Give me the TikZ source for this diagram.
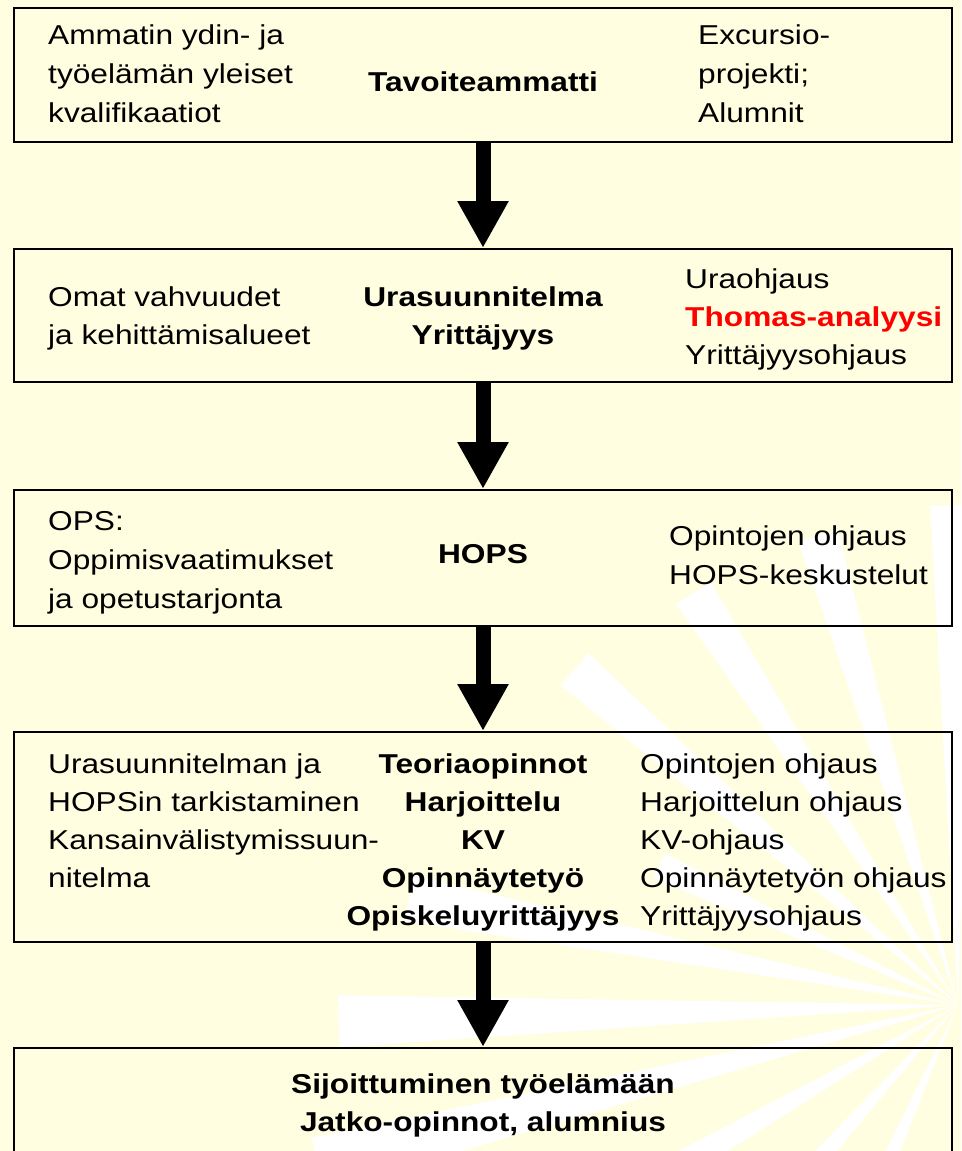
\documentclass[tikz,border=0pt]{standalone}
\usepackage{fontspec}
\setmainfont{Liberation Sans}[FakeStretch=1.16]
\usetikzlibrary{arrows.meta}
\definecolor{bgyellow}{RGB}{255,254,224}
\definecolor{alertred}{RGB}{255,0,0}
\tikzset{
  stage/.style={draw=black, line width=2pt, minimum width=938pt, inner sep=0pt},
  txt/.style={inner sep=0pt, anchor=base west, font=\fontsize{27.3}{38}\selectfont},
  head/.style={inner sep=0pt, anchor=base, font=\fontsize{27.3}{38}\selectfont\bfseries},
  flow/.style={line width=15pt, -{Triangle[length=47pt,width=48pt]}},
}
\begin{document}
\begin{tikzpicture}[x=1pt,y=-1pt]
	\useasboundingbox (0,0) rectangle (961,1151);
	\clip (0,0) rectangle (961,1151);
	% background and sun rays
	\fill[bgyellow] (0,0) rectangle (961,1151);
	\coordinate (sun) at (958,1005);
	\foreach \a/\r in {90.8/500, 106.6/490, 122.7/490, 138.8/510, 155/330, 169/560,
		181.5/620, 194/660, 210/420, 228/300, 246/250} {
		\fill[white] (sun) -- +({\r*cos(\a-2.4)},{-\r*sin(\a-2.4)})
			-- +({\r*cos(\a+2.4)},{-\r*sin(\a+2.4)}) -- cycle;
	}
	% stages
	\node[stage, minimum height=134pt] (box1) at (483,75) {};
	\node[stage, minimum height=133pt] (box2) at (483,315.5) {};
	\node[stage, minimum height=136pt] (box3) at (483,558) {};
	\node[stage, minimum height=210pt] (box4) at (483,837) {};
	\node[stage, minimum height=142pt] (box5) at (483,1119) {};
	% box 1
	\foreach \t [count=\i] in {Ammatin ydin- ja, työelämän yleiset, kvalifikaatiot}
		\node[txt] (goal-l\i) at (48,{5+39*\i}) {\t};
	\node[head] (goal) at (483,91) {Tavoiteammatti};
	\foreach \t [count=\i] in {Excursio-, projekti;, Alumnit}
		\node[txt] (goal-r\i) at (698,{5+39*\i}) {\t};
	% box 2
	\foreach \t [count=\i] in {Omat vahvuudet, ja kehittämisalueet}
		\node[txt] (plan-l\i) at (48,{268+38*\i}) {\t};
	\node[head] (plan-c1) at (483,306) {Urasuunnitelma};
	\node[head] (plan-c2) at (483,344) {Yrittäjyys};
	\node[txt] (plan-r1) at (685,288) {Uraohjaus};
	\node[txt, font=\fontsize{27.3}{38}\selectfont\bfseries, text=alertred] (plan-r2) at (685,326) {Thomas-analyysi};
	\node[txt] (plan-r3) at (685,364) {Yrittäjyysohjaus};
	% box 3
	\foreach \t [count=\i] in {OPS:, Oppimisvaatimukset, ja opetustarjonta}
		\node[txt] (hops-l\i) at (48,{491+39*\i}) {\t};
	\node[head] (hops) at (483,563) {HOPS};
	\foreach \t [count=\i] in {Opintojen ohjaus, HOPS-keskustelut}
		\node[txt] (hops-r\i) at (669,{506+39*\i}) {\t};
	% box 4
	\foreach \t [count=\i] in {Urasuunnitelman ja, HOPSin tarkistaminen, Kansainvälistymissuun-, nitelma}
		\node[txt] (study-l\i) at (48,{735+38*\i}) {\t};
	\foreach \t [count=\i] in {Teoriaopinnot, Harjoittelu, KV, Opinnäytetyö, Opiskeluyrittäjyys}
		\node[head] (study-c\i) at (483,{735+38*\i}) {\t};
	\foreach \t [count=\i] in {Opintojen ohjaus, Harjoittelun ohjaus, KV-ohjaus, Opinnäytetyön ohjaus, Yrittäjyysohjaus}
		\node[txt] (study-r\i) at (640,{735+38*\i}) {\t};
	% box 5
	\node[head] (work1) at (483,1093) {Sijoittuminen työelämään};
	\node[head] (work2) at (483,1131) {Jatko-opinnot, alumnius};
	% arrows
	\draw[flow] (box1) -- (box2);
	\draw[flow] (box2) -- (box3);
	\draw[flow] (box3) -- (box4);
	\draw[flow] (box4) -- (box5);
\end{tikzpicture}
\end{document}
